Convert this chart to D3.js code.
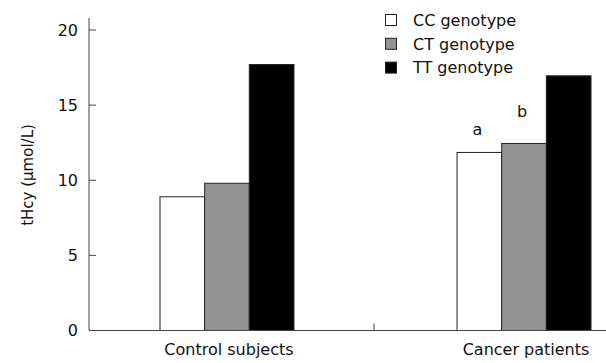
<!DOCTYPE html>
<html>
<head>
<meta charset="utf-8">
<title>tHcy by genotype</title>
<script src="https://d3js.org/d3.v7.min.js"></script>
<style>
body { margin: 0; padding: 0; background: #fff; }
text { font-family: "DejaVu Sans", Verdana, sans-serif; fill: #111; }
</style>
</head>
<body>
<svg id="chart" width="606" height="363"></svg>
<script>
// data
var groups = ["Control subjects", "Cancer patients"];
var genotypes = ["CC genotype", "CT genotype", "TT genotype"];
var controlValues = [8.9, 9.8, 17.7];
var cancerValues = [11.85, 12.45, 16.95];
var yTicks = [0, 5, 10, 15, 20];
var colors = ["#ffffff", "#939393", "#000000"];
// significance marks: group, genotype, letter, height (in µmol/L)
var marks = [
  {group: "Cancer patients", genotype: "CC genotype", label: "a", at: 13.0},
  {group: "Cancer patients", genotype: "CT genotype", label: "b", at: 14.2}
];

var rows = [];
groups.forEach(function(g, gi) {
  var vals = gi == 0 ? controlValues : cancerValues;
  genotypes.forEach(function(t, ti) {
    rows.push({group: g, genotype: t, value: vals[ti]});
  });
});

var svg = d3.select("#chart");
var plotLeft = 89, plotRight = 606, plotTop = 18, plotBottom = 330.5;

var y = d3.scaleLinear().domain([0, 20]).range([plotBottom, 30]);
var x = d3.scaleBand().domain(groups).range([160, 591]).paddingInner(0.549);
var xs = d3.scaleBand().domain(genotypes).range([0, x.bandwidth()]);
var color = d3.scaleOrdinal().domain(genotypes).range(colors);

// bars
svg.append("g")
  .selectAll("rect")
  .data(rows)
  .enter()
  .append("rect")
  .attr("x", function(d) { return x(d.group) + xs(d.genotype); })
  .attr("y", function(d) { return y(d.value); })
  .attr("width", xs.bandwidth())
  .attr("height", function(d) { return plotBottom - y(d.value); })
  .attr("fill", function(d) { return color(d.genotype); })
  .attr("stroke", "#222")
  .attr("stroke-width", 1);

// y axis, ticks pointing inward
var gy = svg.append("g").attr("transform", "translate(" + plotLeft + ",0)");
gy.append("line").attr("x1", 0).attr("x2", 0).attr("y1", plotTop).attr("y2", plotBottom)
  .attr("stroke", "#444");
gy.selectAll(".tk").data(yTicks).enter().append("line")
  .attr("x1", 0).attr("x2", 7)
  .attr("y1", function(d) { return y(d); }).attr("y2", function(d) { return y(d); })
  .attr("stroke", "#444");
gy.selectAll(".lb").data(yTicks).enter().append("text")
  .attr("x", -11)
  .attr("y", function(d) { return y(d); })
  .attr("dy", "0.36em")
  .attr("text-anchor", "end")
  .style("font-size", "16px")
  .text(function(d) { return d; });

svg.append("text")
  .attr("transform", "translate(33," + 175 + ") rotate(-90)")
  .attr("text-anchor", "middle")
  .style("font-size", "15px")
  .text("tHcy (\u03bcmol/L)");

// x axis
svg.append("line").attr("x1", plotLeft).attr("x2", plotRight)
  .attr("y1", plotBottom).attr("y2", plotBottom).attr("stroke", "#444");
var mid = (x(groups[0]) + x.bandwidth() + x(groups[1])) / 2 - 1.5;
svg.append("line").attr("x1", mid).attr("x2", mid)
  .attr("y1", plotBottom).attr("y2", plotBottom - 7).attr("stroke", "#444");
svg.selectAll(".xl").data(groups).enter().append("text")
  .attr("x", function(d) { return x(d) + x.bandwidth() / 2 + 2; })
  .attr("y", 355)
  .attr("text-anchor", "middle")
  .style("font-size", "16px")
  .text(function(d) { return d; });

// significance letters
svg.selectAll(".mk").data(marks).enter().append("text")
  .attr("x", function(d) { return x(d.group) + xs(d.genotype) + xs.bandwidth() / 2 - 2; })
  .attr("y", function(d) { return y(d.at); })
  .attr("text-anchor", "middle")
  .style("font-size", "16px")
  .text(function(d) { return d.label; });

// legend
var lg = svg.append("g").attr("transform", "translate(385,14)");
var item = lg.selectAll("g").data(genotypes).enter().append("g")
  .attr("transform", function(d, i) { return "translate(0," + (i * 23.8) + ")"; });
item.append("rect")
  .attr("x", 0.5).attr("y", 0.5).attr("width", 11).attr("height", 11)
  .attr("fill", function(d) { return color(d); })
  .attr("stroke", "#222");
item.append("text")
  .attr("x", 28).attr("y", 6)
  .attr("dy", "0.36em")
  .style("font-size", "16px")
  .text(function(d) { return d; });
</script>
</body>
</html>
